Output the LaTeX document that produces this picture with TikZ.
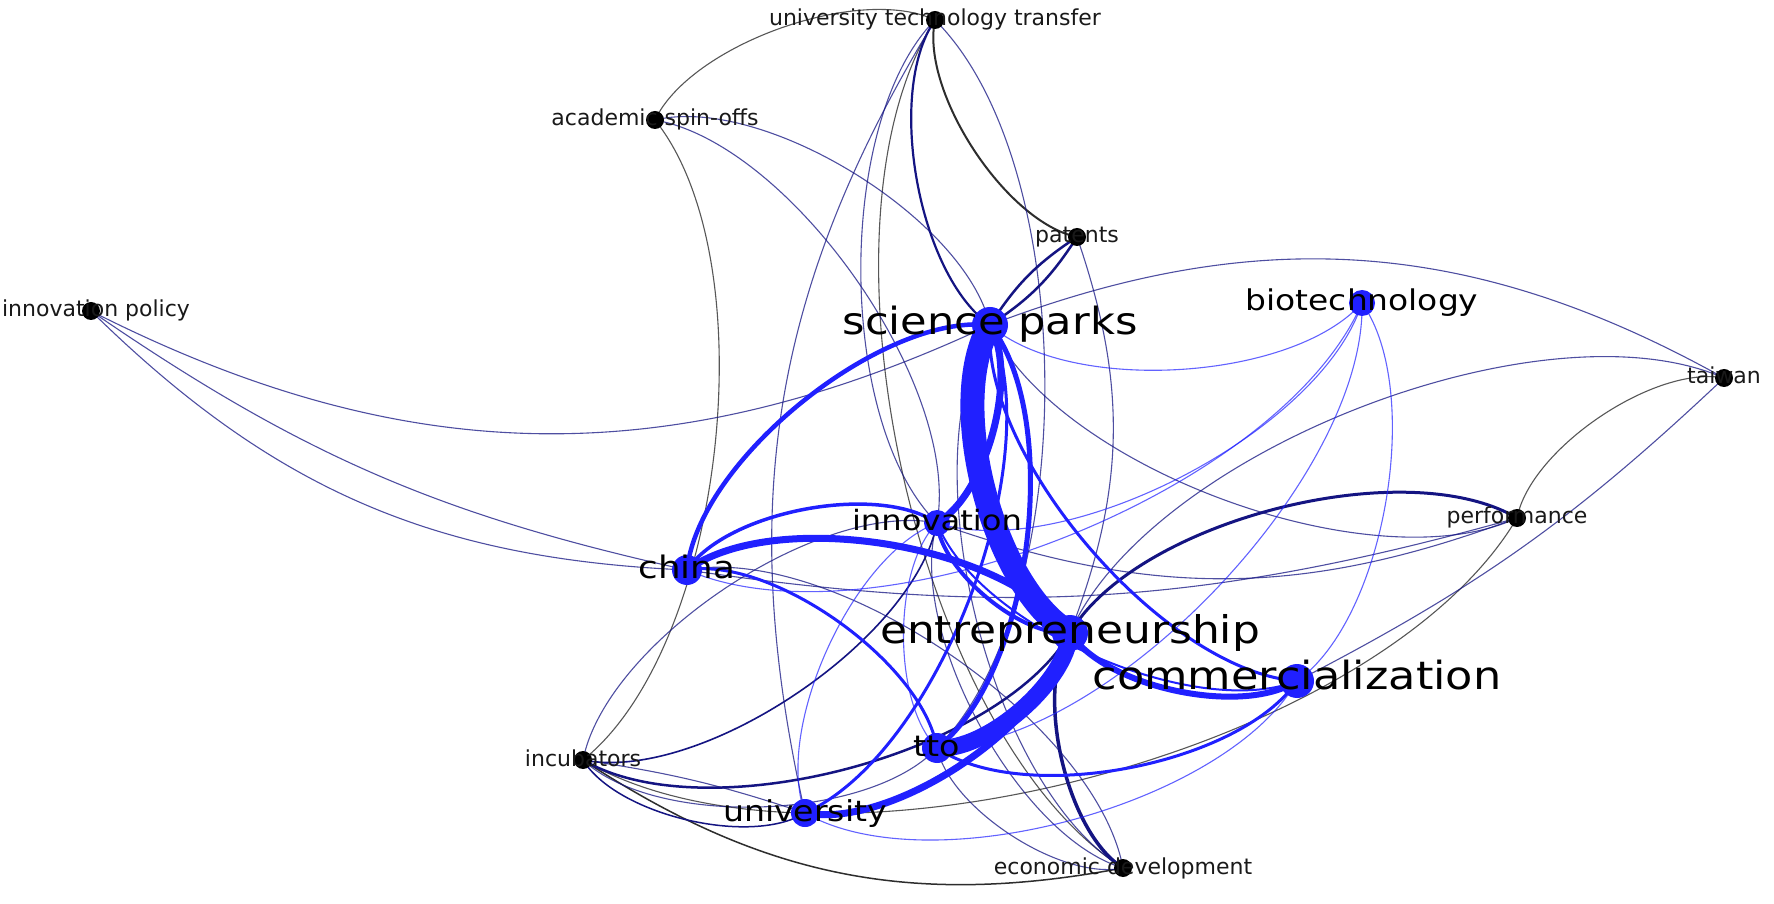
\documentclass[tikz,border=0pt]{standalone}
\usepackage{fontspec}
\usepackage{graphicx}
\newfontfamily\lf{DejaVu Sans}
\definecolor{nblue}{RGB}{32,32,255}
\definecolor{enavy}{RGB}{20,20,130}
\definecolor{egray}{RGB}{45,45,45}
\tikzset{
  arcl/.style={bend left=45, looseness=0.72},
  arcr/.style={bend right=45, looseness=0.72},
  ebl/.style={draw=nblue},
  enav/.style={draw=enavy},
  egy/.style={draw=egray},
  thinbl/.style={draw=nblue, line width=1.1, opacity=0.7},
  thinnv/.style={draw=enavy, line width=1.1, opacity=0.75},
  thingy/.style={draw=egray, line width=1.1, opacity=0.8},
  bdot/.style={circle, fill=nblue, inner sep=0pt},
  kdot/.style={circle, fill=black, inner sep=0pt, minimum size=18},
  small/.style={font=\lf\fontsize{22}{24}\selectfont, anchor=base, inner sep=0pt, text=black!90},
  big/.style={font=\lf\fontsize{#1}{#1}\selectfont, anchor=base, inner sep=0pt, text=black}
}
\newcommand\wide[1]{\scalebox{1.15}[1]{#1}}
\begin{document}
\begin{tikzpicture}[x=1pt, y=1pt]
\useasboundingbox (0,0) rectangle (1774,903);
\fill[white] (0,0) rectangle (1774,903);

% node centres
\coordinate (utt)   at (935,883);
\coordinate (asp)   at (655,783);
\coordinate (pat)   at (1077,666);
\coordinate (ipol)  at (91,592);
\coordinate (sp)    at (990,578);
\coordinate (bio)   at (1362,600);
\coordinate (tai)   at (1724,525);
\coordinate (inn)   at (937,380);
\coordinate (perf)  at (1517,385);
\coordinate (china) at (687,333);
\coordinate (ent)   at (1070,270);
\coordinate (com)   at (1297,222);
\coordinate (tto)   at (937,155);
\coordinate (inc)   at (583,143);
\coordinate (uni)   at (805,90);
\coordinate (eco)   at (1123,35);

% links between two black keywords
\draw[thingy] (asp) to[arcl] (utt);
\draw[thingy] (asp) to[arcl] (inc);
\draw[egy, line width=2] (utt) to[arcr] (pat);
\draw[thingy] (utt) to[arcr] (eco);
\draw[thingy] (tai) to[arcr] (perf);
\draw[thingy] (perf) to[arcl] (inc);
\draw[egy, line width=1.5] (inc) to[bend right=22] (eco);

% links between a blue and a black keyword
\draw[thinnv] (asp) to[arcl] (sp);
\draw[thinnv] (asp) to[arcl] (inn);
\draw[enav, line width=2.2] (utt) to[arcr] (sp);
\draw[thinnv] (utt) to[arcr] (inn);
\draw[thinnv] (utt) to[bend right=22] (uni);
\draw[thinnv] (utt) to[arcl] (tto);
\draw[enav, line width=2.5] (pat) to[bend left=12] (sp);
\draw[enav, line width=2.5] (pat) to[bend right=12] (sp);
\draw[thinnv] (pat) to[bend left=20] (ent);
\draw[thinnv] (sp) to[arcr] (perf);
\draw[thinnv] (sp) to[bend left=25] (tai);
\draw[thinnv] (ent) to[arcl] (tai);
\draw[enav, line width=3] (ent) to[arcl] (perf);
\draw[enav, line width=2.5] (inc) to[arcr] (ent);
\draw[enav, line width=3.5] (ent) to[arcr] (eco);
\draw[enav, line width=1.6] (inc) to[arcr] (inn);
\draw[thinnv] (inc) to[arcl] (inn);
\draw[enav, line width=1.5] (inc) to[arcr] (uni);
\draw[thinnv] (inc) to[bend left=5] (uni);
\draw[thinnv] (inc) to[arcr] (tto);
\draw[thinnv] (inn) to[arcr] (eco);
\draw[thinnv] (china) to[arcl] (eco);
\draw[thinnv] (tto) to[arcr] (eco);
\draw[thinnv] (sp) to[arcr] (eco);
\draw[thinnv] (perf) to[bend left=20] (inn);
\draw[thinnv] (perf) to[bend left=12] (china);
\draw[thinnv] (tai) to[bend left=8] (com);
\draw[thinnv] (ipol) to[bend right=26] (sp);
\draw[thinnv] (ipol) to[bend right=11] (china);
\draw[thinnv] (ipol) to[bend right=21] (china);

% links between blue keywords
\draw[thinbl] (uni) to[arcr] (com);
\draw[thinbl] (sp) to[arcr] (bio);
\draw[thinbl] (bio) to[arcl] (com);
\draw[thinbl] (bio) to[arcl] (inn);
\draw[thinbl] (bio) to[arcl] (china);
\draw[thinbl] (bio) to[arcl] (tto);
\draw[thinbl] (inn) to[arcr] (uni);
\draw[thinbl] (inn) to[arcr] (tto);
\draw[ebl, line width=2] (inn) to[arcr] (com);
\draw[ebl, line width=3] (uni) to[arcr] (sp);
\draw[ebl, line width=3] (china) to[arcl] (tto);
\draw[ebl, line width=3] (sp) to[arcr] (com);
\draw[ebl, line width=3] (tto) to[arcr] (com);
\draw[ebl, line width=3.5] (china) to[arcl] (inn);
\draw[ebl, line width=4] (inn) to[arcr] (ent);
\draw[ebl, line width=4.5] (china) to[arcl] (sp);
\draw[ebl, line width=5] (sp) to[arcl] (tto);
\draw[ebl, line width=6] (ent) to[arcr] (com);
\draw[ebl, line width=7] (sp) to[arcl] (inn);
\draw[ebl, line width=7] (china) to[arcl] (ent);
\draw[ebl, line width=7] (uni) to[arcr] (ent);
\draw[ebl, line width=17] (tto) to[arcr] (ent);
\draw[ebl, line width=24] (sp) to[arcr] (ent);

% keyword dots
\node[bdot, minimum size=36] (sp-d)    at (sp) {};
\node[bdot, minimum size=36] (ent-d)   at (ent) {};
\node[bdot, minimum size=34] (com-d)   at (com) {};
\node[bdot, minimum size=30] (china-d) at (china) {};
\node[bdot, minimum size=30] (tto-d)   at (tto) {};
\node[bdot, minimum size=28] (uni-d)   at (uni) {};
\node[bdot, minimum size=26] (inn-d)   at (inn) {};
\node[bdot, minimum size=26] (bio-d)   at (bio) {};
\node[kdot] (utt-d)  at (utt) {};
\node[kdot] (asp-d)  at (asp) {};
\node[kdot] (pat-d)  at (pat) {};
\node[kdot] (ipol-d) at (ipol) {};
\node[kdot] (tai-d)  at (tai) {};
\node[kdot] (perf-d) at (perf) {};
\node[kdot] (inc-d)  at (inc) {};
\node[kdot] (eco-d)  at (eco) {};

% keyword labels
\node[small] (utt-l)  at ([yshift=-6]utt)  {university technology transfer};
\node[small] (asp-l)  at ([yshift=-6]asp)  {academic spin-offs};
\node[small] (pat-l)  at ([yshift=-6]pat)  {patents};
\node[small] (ipol-l) at ([xshift=5,yshift=-6]ipol) {innovation policy};
\node[small] (tai-l)  at ([yshift=-6]tai)  {taiwan};
\node[small] (perf-l) at ([yshift=-6]perf) {performance};
\node[small] (inc-l)  at ([yshift=-6]inc)  {incubators};
\node[small] (eco-l)  at ([yshift=-6]eco)  {economic development};
\node[big=37.5] (sp-l)    at ([yshift=-10]sp)    {\wide{science parks}};
\node[big=38.2] (ent-l)   at ([yshift=-10]ent)   {\wide{entrepreneurship}};
\node[big=38.8] (com-l)   at ([yshift=-8]com)    {\wide{commercialization}};
\node[big=28.6] (bio-l)   at ([yshift=-8]bio)    {\wide{biotechnology}};
\node[big=28]   (inn-l)   at ([yshift=-8]inn)    {\wide{innovation}};
\node[big=31]   (china-l) at ([yshift=-8]china)  {\wide{china}};
\node[big=29]   (tto-l)   at ([yshift=-8]tto)    {\wide{tto}};
\node[big=28.8] (uni-l)   at ([yshift=-8]uni)    {\wide{university}};
\end{tikzpicture}
\end{document}
